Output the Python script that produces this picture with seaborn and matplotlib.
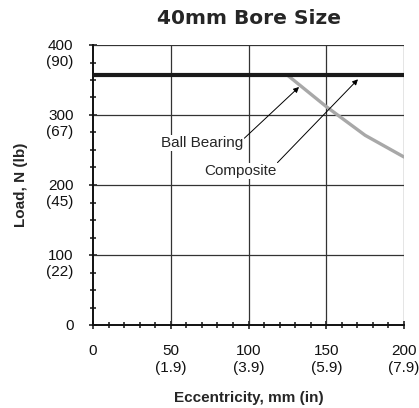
import numpy as np
import pandas as pd
import matplotlib
matplotlib.use("Agg")
import matplotlib.pyplot as plt
import matplotlib.transforms as mtransforms
from matplotlib.ticker import MultipleLocator
import seaborn as sns

# Chart values.
ball_x = [0, 200]
ball_load = [357, 357]

comp_x = [0, 125, 150, 175, 200]
comp_load = [357, 357, 312, 271, 240]

x_ticks = [0, 50, 100, 150, 200]
x_labels = ["0", "50\n(1.9)", "100\n(3.9)", "150\n(5.9)", "200\n(7.9)"]
y_ticks = [0, 100, 200, 300, 400]
y_labels = ["0", "100\n(22)", "200\n(45)", "300\n(67)", "400\n(90)"]

sns.set_style("white")
plt.rcParams['font.family'] = ['Liberation Sans', 'DejaVu Sans']

fig = plt.figure(figsize=(4.19, 4.08), dpi=100)
ax = fig.add_axes([93 / 419, 1 - 325 / 408, 311 / 419, 280 / 408])

comp = pd.DataFrame({'x': comp_x, 'load': comp_load})
ball = pd.DataFrame({'x': ball_x, 'load': ball_load})

sns.lineplot(data=comp, x='x', y='load', ax=ax, color='#a8a8a8', linewidth=2.4, zorder=3)
sns.lineplot(data=ball, x='x', y='load', ax=ax, color='#1a1a1a', linewidth=3.0, zorder=4)

ax.set_xlim(0, 200)
ax.set_ylim(0, 400)

# grid
for v in x_ticks[1:]:
    ax.axvline(v, color='#333333', linewidth=0.9, zorder=1)
for v in y_ticks[1:]:
    ax.axhline(v, color='#333333', linewidth=0.9, zorder=1)

for s in ['top', 'right']:
    ax.spines[s].set_visible(False)
for s in ['left', 'bottom']:
    ax.spines[s].set_color('#111111')
    ax.spines[s].set_linewidth(1.4)

ax.set_xticks(x_ticks)
ax.set_xticklabels(x_labels)
ax.set_yticks(y_ticks)
ax.set_yticklabels(y_labels)
ax.xaxis.set_minor_locator(MultipleLocator(10))
ax.yaxis.set_minor_locator(MultipleLocator(25))
ax.tick_params(which='both', bottom=True, left=True, direction='inout',
               color='#111111', width=1.1)
ax.tick_params(which='major', length=6)
ax.tick_params(which='minor', length=5)
ax.tick_params(axis='x', which='major', pad=11, labelsize=11, colors='#111111')
ax.tick_params(axis='y', which='major', pad=11, labelsize=11, colors='#111111')

# first line of each y label sits on its tick
shift = mtransforms.ScaledTranslation(0, 6 / 100, fig.dpi_scale_trans)
for lab in ax.get_yticklabels():
    lab.set_verticalalignment('top')
    lab.set_transform(lab.get_transform() + shift)

ax.set_xlabel('Eccentricity, mm (in)', fontsize=11, fontweight='bold', labelpad=12)
ax.set_ylabel('Load, N (lb)', fontsize=11, fontweight='bold', labelpad=13)
# title placed by hand, the auto position jumps above the "400" label
fig.text(248.5 / 419, 1 - 18 / 408, '40mm Bore Size', fontsize=14.5,
         fontweight='bold', family=['DejaVu Sans'], ha='center', va='center')

box = dict(facecolor='white', edgecolor='none', pad=1)
ax.annotate('Ball Bearing', xy=(132.5, 340), xytext=(70, 260),
            fontsize=11, ha='center', va='center', bbox=box, zorder=5,
            arrowprops=dict(arrowstyle='-|>', color='black', lw=0.7,
                            mutation_scale=8, shrinkA=0, shrinkB=0,
                            relpos=(1.0, 0.75)))
ax.annotate('Composite', xy=(170.4, 351), xytext=(94.5, 220),
            fontsize=11, ha='center', va='center', bbox=box, zorder=5,
            arrowprops=dict(arrowstyle='-|>', color='black', lw=0.7,
                            mutation_scale=8, shrinkA=0, shrinkB=0,
                            relpos=(1.0, 1.0)))

fig.savefig('out.png', dpi=100)
